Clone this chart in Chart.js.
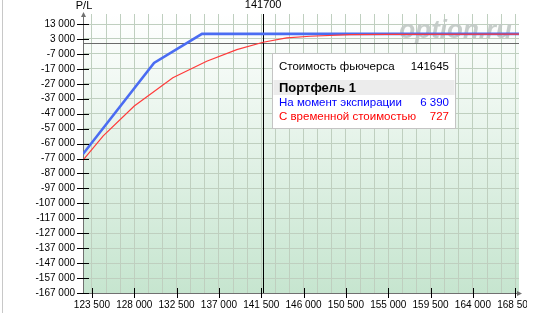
<!DOCTYPE html>
<html><head><meta charset="utf-8">
<script src="https://cdn.jsdelivr.net/npm/chart.js@4/dist/chart.umd.min.js"></script>
<style>html,body{margin:0;padding:0;background:#fff;overflow:hidden}
#wrap{position:relative;width:527px;height:313px}
</style></head><body><div id="wrap"><canvas id="c"></canvas></div>
<script>
// ---- data ----
const expirationPrice = [122550, 130100, 135200, 168900];
const expirationPL    = [-74000, -13000, 6390, 6390];
const timeValuePrice  = [122550, 124700, 128000, 132100, 135700, 138900, 141700, 144200, 146700, 150900, 155000, 168900];
const timeValuePL     = [-78100, -61900, -41900, -23000, -11900, -4100, 800, 3700, 4800, 5900, 6100, 6250];
const yTickValues = [13000, 3000, -7000, -17000, -27000, -37000, -47000, -57000, -67000, -77000, -87000, -97000, -107000, -117000, -127000, -137000, -147000, -157000, -167000];
const xTickLabels = [123500, 128000, 132500, 137000, 141500, 146000, 150500, 155000, 159500, 164000, 168500];
const xGridStep = 1500;
const currentPrice = 141700;
const futuresValue = 141645;
const seriesNames = ['На момент экспирации', 'С временной стоимостью'];
const seriesNow = [6390, 727];
const portfolioName = 'Портфель 1';
const futuresLabel = 'Стоимость фьючерса';
const yAxisTitle = 'P/L';

const fmt = v => (v < 0 ? '-' : '') + String(Math.abs(v)).replace(/\B(?=(\d{3})+(?!\d))/g, ' ');
const xGrid = [];
for (let v = xTickLabels[0]; v <= xTickLabels[xTickLabels.length - 1]; v += xGridStep) xGrid.push(v);
const FONT = 'Liberation Sans, Arial, sans-serif';

const decor = {
  id: 'decor',
  beforeDraw(chart) {
    const {ctx, chartArea: a} = chart;
    const g = ctx.createLinearGradient(0, a.top, 0, a.bottom);
    g.addColorStop(0, '#ffffff');
    g.addColorStop(1, '#c6e5cf');
    ctx.save();
    ctx.fillStyle = g;
    ctx.fillRect(a.left, a.top, a.right - a.left, a.bottom - a.top);
    ctx.fillStyle = '#c8c8c8';
    ctx.fillRect(2, 0, 1, chart.height);
    ctx.restore();
  },
  beforeDatasetsDraw(chart) {
    const {ctx, chartArea: a, scales: {x, y}} = chart;
    ctx.save();
    // watermark
    ctx.font = 'italic bold 26px ' + FONT;
    ctx.fillStyle = 'rgba(192,200,196,0.9)';
    ctx.textAlign = 'right';
    ctx.textBaseline = 'alphabetic';
    ctx.fillText('option.ru', a.right - 7, a.top + 24);
    // zero line
    const y0 = Math.round(y.getPixelForValue(0)) + 0.5;
    ctx.strokeStyle = '#6a6a6a';
    ctx.lineWidth = 1;
    ctx.beginPath(); ctx.moveTo(a.left, y0); ctx.lineTo(a.right, y0); ctx.stroke();
    // current price line
    const xc = Math.round(x.getPixelForValue(currentPrice)) + 0.5;
    ctx.strokeStyle = '#000';
    ctx.beginPath(); ctx.moveTo(xc, a.top); ctx.lineTo(xc, a.bottom); ctx.stroke();
    ctx.restore();
  },
  afterDraw(chart) {
    const {ctx, chartArea: a, scales: {x, y}} = chart;
    ctx.save();
    ctx.strokeStyle = '#000';
    ctx.lineWidth = 1;
    yTickValues.forEach(v => {
      const py = Math.round(y.getPixelForValue(v)) + 0.5;
      ctx.beginPath(); ctx.moveTo(a.left - 6, py); ctx.lineTo(a.left + 6, py); ctx.stroke();
    });
    xTickLabels.forEach(v => {
      const px = Math.round(x.getPixelForValue(v)) + 0.5;
      ctx.beginPath(); ctx.moveTo(px, a.bottom - 5); ctx.lineTo(px, a.bottom + 5); ctx.stroke();
    });
    ctx.fillStyle = '#707070';
    ctx.beginPath(); ctx.moveTo(a.left + 0.5, a.top - 2); ctx.lineTo(a.left - 2, a.top + 3); ctx.lineTo(a.left + 3, a.top + 3); ctx.fill();
    ctx.beginPath(); ctx.moveTo(a.right + 3, a.bottom + 0.5); ctx.lineTo(a.right - 2, a.bottom - 2); ctx.lineTo(a.right - 2, a.bottom + 3); ctx.fill();
    ctx.fillStyle = '#000';
    ctx.font = '11px ' + FONT;
    ctx.textAlign = 'center'; ctx.textBaseline = 'middle';
    ctx.fillText(yAxisTitle, a.left + 1, 6);
    ctx.fillText(String(currentPrice), x.getPixelForValue(currentPrice), 5);
    // legend box
    const bx = 272.5, by = 53.5, bw = 183, bh = 75;
    ctx.fillStyle = '#fff';
    ctx.fillRect(bx, by, bw, bh);
    ctx.strokeStyle = '#c4c4c4';
    ctx.strokeRect(bx, by, bw, bh);
    ctx.fillStyle = '#ececec';
    ctx.fillRect(bx + 1, 80, bw - 2, 15);
    const lx = bx + 6.5, rx = bx + bw - 6.5;
    ctx.textBaseline = 'middle';
    ctx.font = '11.5px ' + FONT;
    ctx.fillStyle = '#000';
    ctx.textAlign = 'left'; ctx.fillText(futuresLabel, lx, 67);
    ctx.textAlign = 'right'; ctx.fillText(String(futuresValue), rx, 67);
    ctx.font = 'bold 13px ' + FONT;
    ctx.textAlign = 'left'; ctx.fillText(portfolioName, lx, 88);
    ctx.font = '11.5px ' + FONT;
    const cols = ['#0000ff', '#ff0000'];
    [103, 117].forEach((ty, i) => {
      ctx.fillStyle = cols[i];
      ctx.textAlign = 'left'; ctx.fillText(seriesNames[i], lx, ty);
      ctx.textAlign = 'right'; ctx.fillText(fmt(seriesNow[i]), rx, ty);
    });
    ctx.restore();
  }
};

new Chart(document.getElementById('c'), {
  type: 'line',
  data: {
    datasets: [
      {
        label: seriesNames[1],
        data: timeValuePrice.map((v, i) => ({x: v, y: timeValuePL[i]})),
        borderColor: '#ff3a3a', borderWidth: 1.2, pointRadius: 0, tension: 0, order: 0
      },
      {
        label: seriesNames[0],
        data: expirationPrice.map((v, i) => ({x: v, y: expirationPL[i]})),
        borderColor: '#4a6cf2', borderWidth: 2.6, pointRadius: 0, tension: 0, order: 1
      }
    ]
  },
  options: {
    responsive: true, maintainAspectRatio: false, animation: false, devicePixelRatio: 1,
    layout: {padding: {top: 13, right: 8, left: 0, bottom: 0}},
    plugins: {legend: {display: false}, tooltip: {enabled: false}},
    scales: {
      x: {
        type: 'linear', min: 122550, max: 168900,
        afterBuildTicks: s => { s.ticks = xGrid.map(v => ({value: v})); },
        afterFit: s => { s.height = 20; s.paddingLeft = 0; s.paddingRight = 0; },
        ticks: {autoSkip: false, maxRotation: 0, padding: 6, color: '#000', font: {family: FONT, size: 10},
          callback: v => xTickLabels.includes(v) ? fmt(v) : ''},
        grid: {color: '#bfcfbf', drawTicks: false},
        border: {color: '#707070'}
      },
      y: {
        type: 'linear', min: -167000, max: 19700,
        afterBuildTicks: s => { s.ticks = yTickValues.map(v => ({value: v})); },
        afterFit: s => { s.width = 83; },
        ticks: {padding: 8, color: '#000', font: {family: FONT, size: 10}, callback: v => fmt(v)},
        grid: {color: '#bfcfbf', drawTicks: false},
        border: {color: '#707070'}
      }
    }
  },
  plugins: [decor]
});
</script></body></html>
